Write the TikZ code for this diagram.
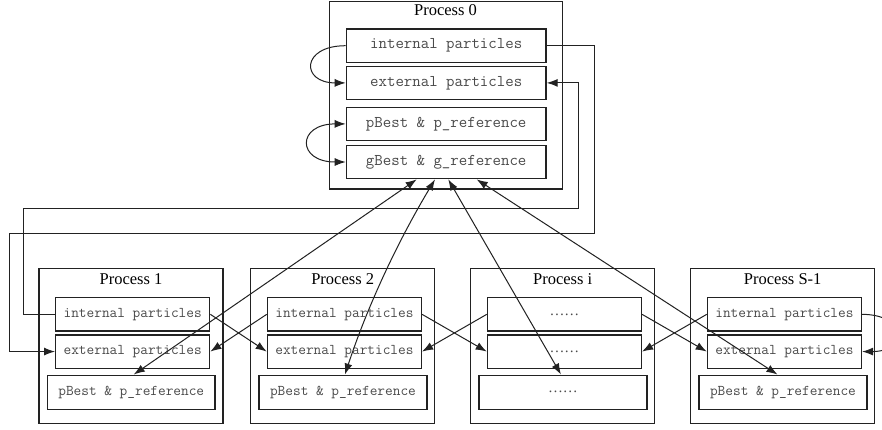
\documentclass[tikz,border=0pt]{standalone}
\usepackage{fontspec}
\setmainfont{Liberation Serif}
\usetikzlibrary{arrows.meta,calc}
\definecolor{ln}{HTML}{222222}
\definecolor{tx}{HTML}{4a4a4a}
\tikzset{
  outerbox/.style={draw=ln, line width=1.4pt, anchor=north west, inner sep=0pt},
  innerbox/.style={draw=ln, line width=1.4pt, anchor=north west, inner sep=0pt, text=tx,
    font=\ttfamily\fontsize{14.9}{15}\selectfont},
  topbox/.style={innerbox, font=\ttfamily\fontsize{16.4}{16}\selectfont,
    minimum width=199.6pt, minimum height=33.4pt},
  titletext/.style={font=\fontsize{16.5}{16}\selectfont, text=black, inner sep=0pt},
  conn/.style={draw=ln, line width=1pt},
  arr/.style={conn, -{Latex[length=11pt,width=8pt]}},
  darr/.style={conn, {Latex[length=11pt,width=8pt]}-{Latex[length=11pt,width=8pt]}},
}
\newcommand{\myproc}[6]{%
  \node[outerbox, minimum width=184pt, minimum height=155pt] (o#1) at (#2,268) {};
  \node[titletext] (t#1) at ($(o#1.north)+(0,11)$) {#3};
  \node[innerbox, minimum width=154pt, minimum height=33.3pt] (in#1) at (#2+16.7,297) {#4};
  \node[innerbox, minimum width=154pt, minimum height=33.3pt] (ex#1) at (#2+16.7,334.2) {#5};
  \node[innerbox, minimum width=167.7pt, minimum height=34pt] (pb#1) at (#2+8.4,374.5) {#6};
}
\begin{document}
\begin{tikzpicture}[x=1pt,y=-1pt]
\useasboundingbox (0,0) rectangle (882,429);
\clip (0,0) rectangle (882,429);
\fill[white] (0,0) rectangle (882,429);

% Process 0
\node[outerbox, minimum width=233pt, minimum height=187.3pt] (o0) at (329,0.8) {};
\node[titletext] (t0) at (445.5,10) {Process 0};
\node[topbox] (in0) at (345.7,28.3) {internal particles};
\node[topbox] (ex0) at (345.7,65.5) {external particles};
\node[topbox] (pb0) at (345.7,106.5) {pBest \& p\_reference};
\node[topbox] (g0) at (345.7,144.6) {gBest \& g\_reference};

% bottom processes
\myproc{1}{38.3}{Process 1}{internal particles}{external particles}{pBest \& p\_reference}
\myproc{2}{250}{Process 2}{internal particles}{external particles}{pBest \& p\_reference}
\myproc{i}{470}{Process i}{\rmfamily ……}{\rmfamily ……}{\rmfamily ……}
\myproc{S}{690}{Process S-1}{internal particles}{external particles}{pBest \& p\_reference}

% loops in process 0
\draw[arr] (in0.west) .. controls +(-45,0) and +(-45,0) .. (ex0.west);
\draw[darr] (pb0.west) .. controls +(-49,0) and +(-49,0) .. (g0.west);
% loop in process S-1 (runs off the right edge)
\draw[arr] (inS.east) .. controls +(45,0) and +(45,0) .. (exS.east);

% ring routing between process 0 and process 1
\coordinate (r1) at (594,233);
\coordinate (l1) at (9.3,233);
\coordinate (r2) at (578,208);
\coordinate (l2) at (23,208);
\draw[arr] (in0.east) -| (r1) -- (l1) |- (ex1.west);
\draw[arr] (in1.west) -| (l2) -- (r2) |- (ex0.east);

% neighbour exchanges
\draw[arr] (in1.east) -- (ex2.west);
\draw[arr] (in2.west) -- (ex1.east);
\draw[arr] (in2.east) -- (exi.west);
\draw[arr] (ini.west) -- (ex2.east);
\draw[arr] (ini.east) -- (exS.west);
\draw[arr] (inS.west) -- (exi.east);

% best exchanges with process 0
\draw[darr] ([xshift=71pt]g0.south west) -- ([xshift=2.5pt]pb1.north);
\draw[darr] ([xshift=89.3pt]g0.south west) .. controls +(-37.3,62.2) and +(22.7,-68.8) .. ([xshift=2pt]pb2.north);
\draw[darr] ([xshift=102.6pt]g0.south west) -- ([xshift=-2pt]pbi.north);
\draw[darr] ([xshift=131pt]g0.south west) -- ([xshift=-5.5pt]pbS.north);
\end{tikzpicture}
\end{document}
